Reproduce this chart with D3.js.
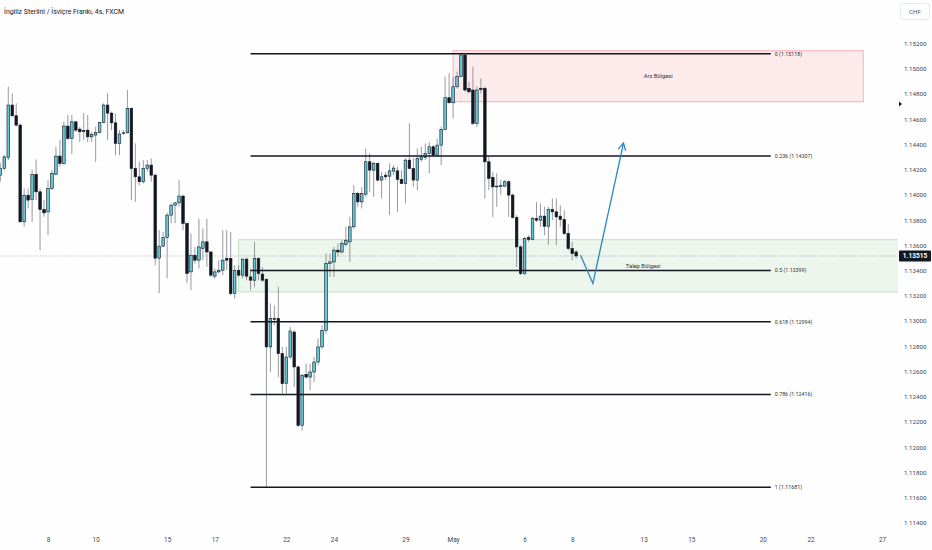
<!DOCTYPE html>
<html><head><meta charset="utf-8">
<script src="https://cdn.jsdelivr.net/npm/d3@7"></script>
<style>body{margin:0;background:#fefefe;} svg{display:block;font-family:Roboto,"Liberation Sans",sans-serif;}</style>
</head><body>
<svg id="c" width="932" height="550"></svg>
<script>
// ---- DATA (GBP/CHF 4h, FXCM) ----
const title = "İngiliz Sterlini / İsviçre Frankı, 4s, FXCM";
const currency = "CHF";
// 4h candles [open, high, low, close]
const candles = [
[1.14156,1.14251,1.14104,1.14210],[1.14210,1.14315,1.14196,1.14301],[1.14296,1.14857,1.14275,1.14712],[1.14712,1.14805,1.14619,1.14627],
[1.14627,1.14726,1.14540,1.14553],[1.14553,1.14567,1.13780,1.13786],[1.13786,1.14050,1.13746,1.13997],[1.13997,1.14050,1.13892,1.13958],
[1.13963,1.14196,1.13786,1.14162],[1.14162,1.14281,1.13958,1.14024],[1.14024,1.14050,1.13561,1.13884],[1.13884,1.13958,1.13825,1.13857],
[1.13865,1.14117,1.13680,1.14050],[1.14050,1.14196,1.14037,1.14170],[1.14164,1.14381,1.14156,1.14307],[1.14307,1.14434,1.14222,1.14249],
[1.14249,1.14579,1.14236,1.14545],[1.14545,1.14633,1.14434,1.14447],[1.14447,1.14633,1.14323,1.14579],[1.14579,1.14582,1.14500,1.14513],
[1.14521,1.14540,1.14420,1.14500],[1.14509,1.14650,1.14434,1.14505],[1.14513,1.14633,1.14420,1.14460],[1.14460,1.14500,1.14420,1.14479],
[1.14474,1.14540,1.14262,1.14495],[1.14495,1.14579,1.14487,1.14574],[1.14574,1.14726,1.14567,1.14712],[1.14712,1.14805,1.14434,1.14648],
[1.14648,1.14660,1.14513,1.14571],[1.14571,1.14645,1.14315,1.14408],[1.14408,1.14513,1.14315,1.14482],[1.14490,1.14513,1.14474,1.14492],
[1.14492,1.14831,1.14487,1.14686],[1.14686,1.14690,1.13958,1.14210],[1.14210,1.14408,1.13945,1.14143],[1.14143,1.14262,1.14077,1.14104],
[1.14104,1.14275,1.14090,1.14210],[1.14210,1.14275,1.14182,1.14236],[1.14236,1.14289,1.14104,1.14156],[1.14156,1.14170,1.13442,1.13498],
[1.13498,1.13720,1.13220,1.13593],[1.13593,1.13706,1.13585,1.13662],[1.13662,1.13857,1.13339,1.13839],[1.13839,1.13932,1.13775,1.13918],
[1.13918,1.13944,1.13775,1.13936],[1.13936,1.14117,1.13905,1.13990],[1.13990,1.14000,1.13720,1.13773],[1.13773,1.13780,1.13300,1.13376],
[1.13389,1.13693,1.13244,1.13521],[1.13521,1.13587,1.13455,1.13482],[1.13482,1.13812,1.13415,1.13587],[1.13574,1.13733,1.13482,1.13627],
[1.13627,1.13812,1.13428,1.13547],[1.13547,1.13550,1.13349,1.13363],[1.13355,1.13415,1.13336,1.13389],[1.13389,1.13482,1.13376,1.13402],
[1.13402,1.13720,1.13363,1.13482],[1.13495,1.13720,1.13402,1.13482],[1.13495,1.13706,1.13204,1.13217],[1.13217,1.13442,1.13177,1.13402],
[1.13402,1.13442,1.13349,1.13363],[1.13363,1.13495,1.13336,1.13490],[1.13490,1.13503,1.13323,1.13355],[1.13349,1.13415,1.13244,1.13323],
[1.13323,1.13627,1.13270,1.13495],[1.13495,1.13503,1.13323,1.13376],[1.13371,1.13426,1.13310,1.13323],[1.13328,1.13339,1.11681,1.12794],
[1.12794,1.13138,1.12595,1.13019],[1.13019,1.13124,1.12966,1.13013],[1.13019,1.13270,1.12555,1.12741],[1.12741,1.12794,1.12424,1.12503],
[1.12503,1.12794,1.12424,1.12714],[1.12714,1.12952,1.12701,1.12920],[1.12912,1.12926,1.12476,1.12635],[1.12635,1.12648,1.12159,1.12172],
[1.12172,1.12582,1.12132,1.12569],[1.12577,1.12661,1.12542,1.12555],[1.12555,1.12661,1.12450,1.12595],[1.12595,1.12714,1.12516,1.12674],
[1.12674,1.12860,1.12648,1.12794],[1.12794,1.12966,1.12780,1.12926],[1.12926,1.13534,1.12900,1.13455],[1.13455,1.13534,1.13349,1.13468],
[1.13468,1.13587,1.13349,1.13561],[1.13561,1.13614,1.13508,1.13547],[1.13547,1.13640,1.13534,1.13614],[1.13608,1.13746,1.13593,1.13640],
[1.13627,1.13825,1.13468,1.13746],[1.13746,1.14077,1.13733,1.14011],[1.14011,1.14024,1.13905,1.13944],[1.13944,1.14063,1.13892,1.14011],
[1.14005,1.14368,1.13984,1.14262],[1.14262,1.14328,1.14024,1.14196],[1.14196,1.14262,1.13984,1.14249],[1.14249,1.14255,1.14104,1.14117],
[1.14117,1.14182,1.13971,1.14143],[1.14156,1.14182,1.14117,1.14143],[1.14148,1.14249,1.13839,1.14190],[1.14188,1.14236,1.14156,1.14212],
[1.14190,1.14222,1.13865,1.14122],[1.14122,1.14196,1.14085,1.14090],[1.14090,1.14289,1.13932,1.14275],[1.14275,1.14567,1.14201,1.14210],
[1.14210,1.14289,1.14063,1.14117],[1.14117,1.14368,1.14037,1.14289],[1.14281,1.14381,1.14262,1.14301],[1.14296,1.14408,1.14275,1.14328],
[1.14328,1.14420,1.14170,1.14381],[1.14381,1.14394,1.14301,1.14315],[1.14315,1.14447,1.14301,1.14394],[1.14394,1.14540,1.14236,1.14519],
[1.14519,1.14937,1.14513,1.14770],[1.14770,1.14963,1.14725,1.14730],[1.14730,1.14937,1.14606,1.14857],[1.14857,1.14976,1.14844,1.14937],
[1.14937,1.15118,1.14932,1.15109],[1.15109,1.15110,1.14817,1.14831],[1.14844,1.14897,1.14804,1.14817],[1.14831,1.15016,1.14553,1.14567],
[1.14567,1.14857,1.14537,1.14831],[1.14844,1.14924,1.14804,1.14835],[1.14844,1.14857,1.13971,1.14262],[1.14262,1.14301,1.14037,1.14130],
[1.14138,1.14182,1.13825,1.14063],[1.14063,1.14170,1.13905,1.14069],[1.14069,1.14117,1.13998,1.14074],[1.14069,1.14117,1.14063,1.14104],
[1.14104,1.14117,1.13825,1.13998],[1.13998,1.14011,1.13812,1.13820],[1.13820,1.13839,1.13428,1.13587],[1.13587,1.13600,1.13363,1.13376],
[1.13376,1.13666,1.13363,1.13654],[1.13662,1.13680,1.13627,1.13646],[1.13646,1.13825,1.13640,1.13812],[1.13812,1.13944,1.13786,1.13799],
[1.13799,1.13932,1.13746,1.13831],[1.13831,1.13905,1.13680,1.13751],[1.13751,1.13905,1.13601,1.13884],[1.13884,1.13971,1.13799,1.13865],
[1.13865,1.13971,1.13601,1.13825],[1.13831,1.13918,1.13746,1.13805],[1.13805,1.13879,1.13680,1.13693],[1.13693,1.13767,1.13561,1.13574],
[1.13574,1.13627,1.13482,1.13534],[1.13547,1.13561,1.13495,1.13515]
];
const firstSlot = -12;            // first candle, in 4h slots relative to Apr 8 open
const barsPerDay = 6;
const dayLabels  = ["8","10","15","17","22","24","29","May","6","8","13","15","20","22","27"];
const dayOffsets = [0,2,5,7,10,12,15,17,20,22,25,27,30,32,35]; // trading days after Apr 8
const priceTicks = [1.114,1.116,1.118,1.120,1.122,1.124,1.126,1.128,1.130,1.132,1.134,1.136,1.138,1.140,1.142,1.144,1.146,1.148,1.150,1.152];
const lastPrice = 1.13515;
const alertPrice = 1.14720;
// Fibonacci retracement
const fibRatios = ["0","0.236","0.5","0.618","0.786","1"];
const fibPrices = [1.15118,1.14307,1.13399,1.12994,1.12416,1.11681];
const fibSlots = [51,182];
// zones [slotStart, slotEnd, priceTop, priceBottom]
const supplyZone = {label:"Arz Bölgesi",   slots:[102,205.3], prices:[1.15143,1.14738]};
const demandZone = {label:"Talep Bölgesi", slots:[48,251.7],  prices:[1.13645,1.13230]};
// projected path [slot, price]
const arrowPath = [[134.1,1.13521],[137.2,1.13297],[144.9,1.14410]];

// ---- DRAW ----
const W=932, H=550, plotRight=898;
const svg = d3.select("#c");
const xs = d3.scaleLinear().domain([0, 35*barsPerDay]).range([48, 882]);
const y  = d3.scaleLinear().domain([1.114, 1.152]).range([522.7, 43.5]);

svg.append("rect").attr("width",W).attr("height",H).attr("fill","#fefefe");
svg.append("defs").append("clipPath").attr("id","plot")
  .append("rect").attr("x",0).attr("y",0).attr("width",plotRight).attr("height",532);
const plot = svg.append("g").attr("clip-path","url(#plot)");

// zones
[supplyZone, demandZone].forEach((z,k)=>{
  plot.append("rect")
    .attr("x", xs(z.slots[0])).attr("width", xs(z.slots[1])-xs(z.slots[0]))
    .attr("y", y(z.prices[0])).attr("height", y(z.prices[1])-y(z.prices[0]))
    .attr("fill", k===0 ? "rgba(242,54,69,0.10)" : "rgba(76,175,80,0.10)")
    .attr("stroke", k===0 ? "rgba(242,54,69,0.35)" : "rgba(76,175,80,0.30)")
    .attr("stroke-width", 1);
});

// last price dotted line
plot.append("line").attr("x1",0).attr("x2",plotRight)
  .attr("y1",y(lastPrice)).attr("y2",y(lastPrice))
  .attr("stroke","#8a8d96").attr("stroke-width",0.6).attr("stroke-dasharray","1,1.5");

// candles
const cg = plot.append("g");
const bw = 2.6;
candles.forEach((c,i)=>{
  const [o,h,l,cl] = c;
  const x = xs(i + firstSlot);
  const up = cl >= o;
  cg.append("line").attr("x1",x).attr("x2",x).attr("y1",y(h)).attr("y2",y(l))
    .attr("stroke","#7d808a").attr("stroke-width",0.8);
  const top = y(Math.max(o,cl)), bot = y(Math.min(o,cl));
  cg.append("rect").attr("x",x-bw/2).attr("width",bw)
    .attr("y",top).attr("height",Math.max(0.8,bot-top))
    .attr("fill", up ? "#62c9d8" : "#131722")
    .attr("stroke","#131722").attr("stroke-width",0.6);
});

// fib lines
fibPrices.forEach((p,i)=>{
  plot.append("line").attr("x1",xs(fibSlots[0])).attr("x2",xs(fibSlots[1]))
    .attr("y1",y(p)).attr("y2",y(p))
    .attr("stroke","#131722").attr("stroke-width",1.5);
  plot.append("text").attr("x",xs(fibSlots[1])+4).attr("y",y(p))
    .attr("dy","0.35em").attr("font-size","5.3px").attr("fill","#333")
    .text(`${fibRatios[i]} (${p.toFixed(5)})`);
});

// zone labels
[supplyZone, demandZone].forEach(z=>{
  plot.append("text")
    .attr("x",(xs(z.slots[0])+xs(z.slots[1]))/2)
    .attr("y",(y(z.prices[0])+y(z.prices[1]))/2)
    .attr("dy","0.35em").attr("text-anchor","middle")
    .attr("font-size","5.8px").attr("fill","#333").text(z.label);
});

// arrow
const pts = arrowPath.map(d=>[xs(d[0]), y(d[1])]);
plot.append("path").attr("d", d3.line()(pts))
  .attr("fill","none").attr("stroke","#2a86c4").attr("stroke-width",1.3);
{
  const [x2,y2] = pts[pts.length-1], [x1,y1] = pts[pts.length-2];
  const a = Math.atan2(y2-y1, x2-x1), L=8, sp=0.5;
  const w1=[x2-L*Math.cos(a-sp), y2-L*Math.sin(a-sp)];
  const w2=[x2-L*Math.cos(a+sp), y2-L*Math.sin(a+sp)];
  plot.append("path").attr("d", d3.line()([w1,[x2,y2],w2]))
    .attr("fill","none").attr("stroke","#2a86c4").attr("stroke-width",1.3);
}

// right axis
const ya = d3.axisRight(y).tickValues(priceTicks).tickFormat(d3.format(".5f")).tickSize(0).tickPadding(1);
const yg = svg.append("g").attr("transform","translate(903,0)").call(ya);
yg.select(".domain").remove();
yg.selectAll("text").attr("font-size","6.2px").attr("fill","#434651").attr("font-family","Roboto,sans-serif");

// bottom axis
const xa = d3.axisBottom(xs).tickValues(dayOffsets.map(d=>d*barsPerDay))
  .tickFormat((d,i)=>dayLabels[i]).tickSize(0).tickPadding(1);
const xg = svg.append("g").attr("transform","translate(0,536)").call(xa);
xg.select(".domain").remove();
xg.selectAll("text").attr("font-size","6.4px").attr("fill","#434651").attr("font-family","Roboto,sans-serif");

// last price label
const ly = y(lastPrice);
svg.append("rect").attr("x",899).attr("y",ly-5.5).attr("width",32).attr("height",11).attr("fill","#131722").attr("rx",1);
svg.append("text").attr("x",915).attr("y",ly).attr("dy","0.35em").attr("text-anchor","middle")
  .attr("font-size","6.6px").attr("font-weight","bold").attr("fill","#fff").text(lastPrice.toFixed(5));

// alert marker
const ay = y(alertPrice);
svg.append("path").attr("d",`M899,${ay-2.5}L902,${ay}L899,${ay+2.5}Z`).attr("fill","#131722");

// currency box
svg.append("rect").attr("x",900.5).attr("y",3.5).attr("width",29).attr("height",16).attr("rx",2.5)
  .attr("fill","#fff").attr("stroke","#e0e3eb").attr("stroke-width",0.8);
svg.append("text").attr("x",915).attr("y",11.5).attr("dy","0.35em").attr("text-anchor","middle")
  .attr("font-size","6.2px").attr("fill","#555").text(currency);

// title
svg.append("text").attr("x",4).attr("y",14).attr("font-size","7.6px").attr("fill","#131722")
  .attr("textLength",120).attr("lengthAdjust","spacingAndGlyphs").text(title);
</script>
</body></html>
